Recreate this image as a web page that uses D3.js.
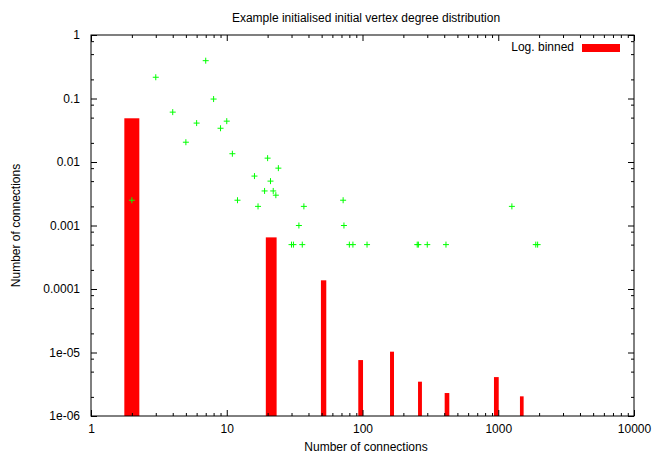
<!DOCTYPE html>
<html>
<head>
<meta charset="utf-8">
<script src="https://cdn.jsdelivr.net/npm/d3@7"></script>
<style>
  html, body { margin: 0; padding: 0; background: #fff; }
  svg { display: block; font-family: "Liberation Sans", Arial, Helvetica, sans-serif; }
</style>
</head>
<body>
<svg id="chart" width="656" height="453"></svg>
<script>
// Log-binned histogram: bin edges (degree) and fraction per bin
const binStart = [1.76, 19.4, 49.4, 93.1, 159.5, 256.5, 403, 930, 1445];
const binEnd   = [2.27, 23.3, 54.1, 100.9, 170.6, 274, 436, 1008, 1538];
const binValue = [0.0488, 6.5e-4, 1.37e-4, 7.6e-6, 1.03e-5, 3.47e-6, 2.3e-6, 4.1e-6, 2.04e-6];

// Raw degree distribution: degree and fraction of vertices
const degree   = [2, 3, 4, 5, 6, 7, 8, 9, 10, 11, 12, 16, 17, 19, 20, 21, 22, 23, 24,
                  30, 31, 34, 36, 37, 72, 73, 80, 85, 108, 253, 258, 300, 412, 1260, 1890, 1950];
const fraction = [0.0025, 0.216, 0.061, 0.0205, 0.041, 0.394, 0.098, 0.034, 0.044, 0.0135, 0.0025,
                  0.006, 0.002, 0.0035, 0.0115, 0.005, 0.0035, 0.003, 0.008,
                  0.0005, 0.0005, 0.001, 0.0005, 0.002, 0.0025, 0.001, 0.0005, 0.0005, 0.0005,
                  0.0005, 0.0005, 0.0005, 0.0005, 0.002, 0.0005, 0.0005];

// Axis ticks
const xMajor = [1, 10, 100, 1000, 10000];
const xMajorLabels = ["1", "10", "100", "1000", "10000"];
const yMajor = [1e-6, 1e-5, 1e-4, 1e-3, 1e-2, 1e-1, 1];
const yMajorLabels = ["1e-06", "1e-05", "0.0001", "0.001", "0.01", "0.1", "1"];

const titleText = "Example initialised initial vertex degree distribution";
const xLabel = "Number of connections";
const yLabel = "Number of connections";
const legendLabel = "Log. binned";

const svg = d3.select("#chart");
const plotLeft = 91, plotRight = 634, plotTop = 35, plotBottom = 416;

const x = d3.scaleLog().domain([1, 10000]).range([plotLeft, plotRight]);
const y = d3.scaleLog().domain([1e-6, 1]).range([plotBottom, plotTop]);

// minor ticks: 2..9 per decade on x, 2,5,8 per decade on y
const xMinor = [];
for (let e = 0; e < 4; e++) for (let m = 2; m <= 9; m++) xMinor.push(m * Math.pow(10, e));
const yMinor = [];
for (let e = -6; e < 0; e++) for (const m of [2, 5, 8]) yMinor.push(m * Math.pow(10, e));

const fontSize = 12;

// bars
svg.append("g").selectAll("rect")
  .data(binValue)
  .join("rect")
  .attr("x", (d, i) => x(binStart[i]))
  .attr("width", (d, i) => x(binEnd[i]) - x(binStart[i]))
  .attr("y", d => y(d))
  .attr("height", d => plotBottom - y(d))
  .attr("fill", "#ff0000");

// raw points as "+" markers
const s = 3;
svg.append("g").selectAll("path")
  .data(fraction)
  .join("path")
  .attr("d", (d, i) => {
    const px = x(degree[i]), py = y(d);
    return `M${px - s},${py}H${px + s}M${px},${py - s}V${py + s}`;
  })
  .attr("stroke", "#00ff00")
  .attr("stroke-width", 1)
  .attr("fill", "none");

// axes with inward ticks on all four sides
function styleAxis(g) {
  g.select(".domain").remove();
  g.selectAll("line").attr("stroke", "#000").attr("stroke-width", 1);
  g.selectAll("text").attr("font-size", fontSize).attr("font-family", "Liberation Sans, Arial, sans-serif").attr("fill", "#000");
}

svg.append("g").attr("transform", `translate(0,${plotBottom})`)
  .call(d3.axisBottom(x).tickValues(xMajor).tickFormat((d, i) => xMajorLabels[i]).tickSizeInner(-6).tickSizeOuter(0).tickPadding(8))
  .call(styleAxis);
svg.append("g").attr("transform", `translate(0,${plotBottom})`)
  .call(d3.axisBottom(x).tickValues(xMinor).tickFormat("").tickSizeInner(-3).tickSizeOuter(0))
  .call(styleAxis);
svg.append("g").attr("transform", `translate(0,${plotTop})`)
  .call(d3.axisTop(x).tickValues(xMajor).tickFormat("").tickSizeInner(-6).tickSizeOuter(0))
  .call(styleAxis);
svg.append("g").attr("transform", `translate(0,${plotTop})`)
  .call(d3.axisTop(x).tickValues(xMinor).tickFormat("").tickSizeInner(-3).tickSizeOuter(0))
  .call(styleAxis);

svg.append("g").attr("transform", `translate(${plotLeft},0)`)
  .call(d3.axisLeft(y).tickValues(yMajor).tickFormat((d, i) => yMajorLabels[i]).tickSizeInner(-6).tickSizeOuter(0).tickPadding(11))
  .call(styleAxis);
svg.append("g").attr("transform", `translate(${plotLeft},0)`)
  .call(d3.axisLeft(y).tickValues(yMinor).tickFormat("").tickSizeInner(-3).tickSizeOuter(0))
  .call(styleAxis);
svg.append("g").attr("transform", `translate(${plotRight},0)`)
  .call(d3.axisRight(y).tickValues(yMajor).tickFormat("").tickSizeInner(-6).tickSizeOuter(0))
  .call(styleAxis);
svg.append("g").attr("transform", `translate(${plotRight},0)`)
  .call(d3.axisRight(y).tickValues(yMinor).tickFormat("").tickSizeInner(-3).tickSizeOuter(0))
  .call(styleAxis);

// border
svg.append("rect")
  .attr("x", plotLeft).attr("y", plotTop)
  .attr("width", plotRight - plotLeft).attr("height", plotBottom - plotTop)
  .attr("fill", "none").attr("stroke", "#000").attr("stroke-width", 1);

// title and axis labels
svg.append("text").attr("x", 366).attr("y", 22)
  .attr("text-anchor", "middle").attr("font-size", fontSize).text(titleText);
svg.append("text").attr("x", 366).attr("y", 451)
  .attr("text-anchor", "middle").attr("font-size", fontSize).text(xLabel);
svg.append("text").attr("transform", `translate(20,${(plotTop + plotBottom) / 2}) rotate(-90)`)
  .attr("text-anchor", "middle").attr("font-size", fontSize).text(yLabel);

// legend
svg.append("text").attr("x", 574).attr("y", 51)
  .attr("text-anchor", "end").attr("font-size", fontSize).text(legendLabel);
svg.append("rect").attr("x", 582).attr("y", 44).attr("width", 38).attr("height", 8)
  .attr("fill", "#ff0000");
</script>
</body>
</html>
